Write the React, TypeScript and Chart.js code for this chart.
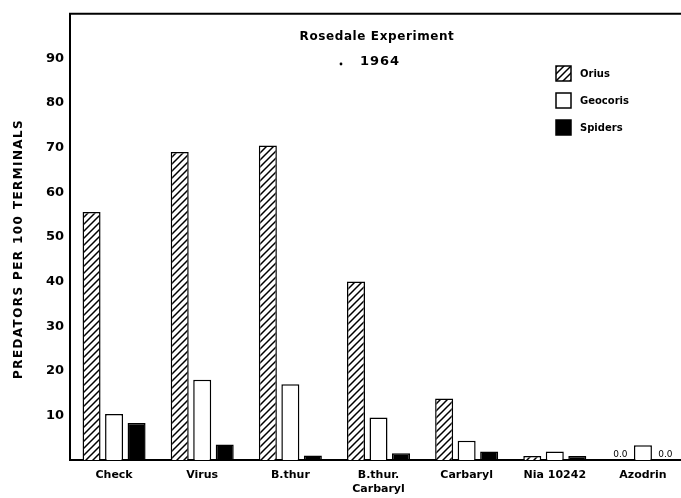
import React, { useEffect, useRef } from "react";
import { Chart, registerables } from "chart.js";

Chart.register(...registerables);

const categories: (string | string[])[] = [
  "Check",
  "Virus",
  "B.thur",
  ["B.thur.", "Carbaryl"],
  "Carbaryl",
  "Nia 10242",
  "Azodrin",
];
const seriesNames = ["Orius", "Geocoris", "Spiders"];
const orius = [55.6, 69.0, 70.5, 40.0, 13.8, 0.9, 0];
const geocoris = [10.3, 18.0, 17.0, 9.5, 4.3, 1.9, 3.3];
const spiders = [8.3, 3.5, 1.0, 1.5, 1.9, 0.9, 0];
const yTickValues = [10, 20, 30, 40, 50, 60, 70, 80, 90];
const titleLines = ["Rosedale Experiment", "1964"];
const yAxisTitle = "PREDATORS PER 100 TERMINALS";
const FONT = "'DejaVu Sans', sans-serif";

function makeHatch(): CanvasPattern | string {
  const c = document.createElement("canvas");
  const s = 7;
  c.width = s;
  c.height = s;
  const g = c.getContext("2d");
  if (!g) return "#fff";
  g.fillStyle = "#fff";
  g.fillRect(0, 0, s, s);
  g.strokeStyle = "#000";
  g.lineWidth = 1.5;
  g.beginPath();
  g.moveTo(-1, s + 1);
  g.lineTo(s + 1, -1);
  g.moveTo(-1, 1);
  g.lineTo(1, -1);
  g.moveTo(s - 1, s + 1);
  g.lineTo(s + 1, s - 1);
  g.stroke();
  const p = g.createPattern(c, "repeat");
  return p || "#fff";
}

export default function App() {
  const ref = useRef<HTMLCanvasElement | null>(null);

  useEffect(() => {
    if (!ref.current) return;
    const hatch = makeHatch();
    const fills: any[] = [hatch, "#ffffff", "#000000"];

    const decor = {
      id: "decor",
      afterDraw(chart: any) {
        const ctx = chart.ctx;
        const area = chart.chartArea;
        ctx.save();
        // top frame line
        ctx.strokeStyle = "#000";
        ctx.lineWidth = 2;
        ctx.beginPath();
        ctx.moveTo(area.left - 1, area.top);
        ctx.lineTo(area.right, area.top);
        ctx.stroke();

        // y axis title
        ctx.save();
        ctx.translate(19, (area.top + area.bottom) / 2 + 12);
        ctx.rotate(-Math.PI / 2);
        ctx.fillStyle = "#000";
        ctx.textAlign = "center";
        ctx.textBaseline = "middle";
        ctx.font = `bold 12px ${FONT}`;
        (ctx as any).letterSpacing = "1.4px";
        ctx.fillText(yAxisTitle, 0, 0);
        ctx.restore();

        // title
        ctx.fillStyle = "#000";
        ctx.textAlign = "center";
        ctx.textBaseline = "middle";
        ctx.font = `bold 12px ${FONT}`;
        (ctx as any).letterSpacing = "0.6px";
        ctx.fillText(titleLines[0], 377, 37);
        ctx.font = `bold 13px ${FONT}`;
        (ctx as any).letterSpacing = "1px";
        ctx.fillText(titleLines[1], 380, 62);
        ctx.beginPath();
        ctx.arc(341, 64, 1.4, 0, Math.PI * 2);
        ctx.fill();
        (ctx as any).letterSpacing = "0px";

        // legend
        ctx.textAlign = "left";
        ctx.font = `bold 10px ${FONT}`;
        chart.data.datasets.forEach((ds: any, i: number) => {
          const y = 66 + i * 27;
          ctx.fillStyle = ds.backgroundColor;
          ctx.fillRect(556, y, 15, 15);
          ctx.lineWidth = 1.5;
          ctx.strokeStyle = "#000";
          ctx.strokeRect(556, y, 15, 15);
          ctx.fillStyle = "#000";
          ctx.fillText(ds.label, 580, y + 8);
        });

        // zero value labels
        ctx.textAlign = "center";
        ctx.textBaseline = "bottom";
        ctx.font = `9px ${FONT}`;
        chart.data.datasets.forEach((ds: any, i: number) => {
          const meta = chart.getDatasetMeta(i);
          ds.data.forEach((v: number, j: number) => {
            if (v === 0) {
              const el = meta.data[j];
              ctx.fillText("0.0", el.x, el.y - 1);
            }
          });
        });
        ctx.restore();
      },
    };

    const chart = new Chart(ref.current, {
      type: "bar",
      data: {
        labels: categories as any,
        datasets: [orius, geocoris, spiders].map((d, i) => ({
          label: seriesNames[i],
          data: d,
          backgroundColor: fills[i],
          borderColor: "#000",
          borderWidth: 1.5,
          categoryPercentage: 0.766,
          barPercentage: 0.8,
        })),
      },
      options: {
        animation: false,
        responsive: true,
        maintainAspectRatio: false,
        layout: { padding: { top: 12, left: 0, right: 0, bottom: 0 } },
        plugins: {
          legend: { display: false },
          tooltip: { enabled: false },
        },
        scales: {
          x: {
            grid: { display: false, drawTicks: false },
            border: { display: true, color: "#000", width: 2 },
            ticks: {
              color: "#000",
              padding: 9,
              maxRotation: 0,
              autoSkip: false,
              font: { family: FONT, size: 11, weight: "bold" },
            },
            afterFit: (s: any) => {
              s.height = 38;
            },
          },
          y: {
            min: 0,
            max: 100,
            grid: { display: false, drawTicks: false },
            border: { display: true, color: "#000", width: 2 },
            afterBuildTicks: (s: any) => {
              s.ticks = yTickValues.map((v) => ({ value: v }));
            },
            ticks: {
              color: "#000",
              padding: 6,
              font: { family: FONT, size: 13, weight: "bold" },
            },
            afterFit: (s: any) => {
              s.width = 70;
            },
          },
        },
      },
      plugins: [decor],
    });
    return () => chart.destroy();
  }, []);

  return (
    <div
      style={{
        position: "fixed",
        left: 0,
        top: 0,
        width: 681,
        height: 498,
        overflow: "hidden",
        background: "#fff",
      }}
    >
      <div style={{ position: "relative", width: 687, height: 498 }}>
        <canvas ref={ref} />
      </div>
    </div>
  );
}
